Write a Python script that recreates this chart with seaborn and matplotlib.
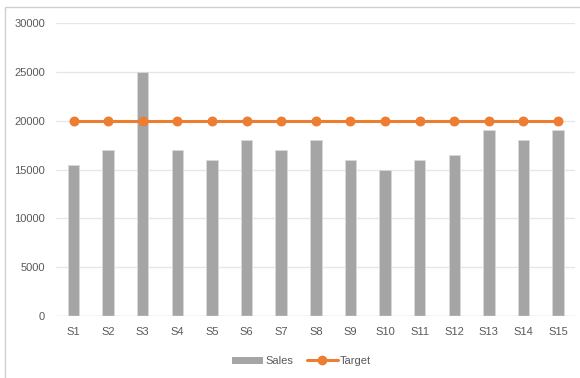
import matplotlib
matplotlib.use("Agg")
import matplotlib.pyplot as plt
import seaborn as sns
from matplotlib.patches import Rectangle, Patch
from matplotlib.lines import Line2D

stores = ["S1", "S2", "S3", "S4", "S5", "S6", "S7", "S8", "S9", "S10",
          "S11", "S12", "S13", "S14", "S15"]
sales = [15500, 17000, 25000, 17000, 16000, 18000, 17000, 18000, 16000, 15000,
         16000, 16500, 19000, 18000, 19000]
target = [20000] * 15
yticks = [0, 5000, 10000, 15000, 20000, 25000, 30000]

bar_color = "#a5a5a5"
line_color = "#ed7d31"
text_color = "#595959"

sns.set_style("white")
plt.rcParams["font.family"] = ["Liberation Sans", "DejaVu Sans"]

fig = plt.figure(figsize=(5.8, 3.78), dpi=100)
ax = fig.add_axes([0.097, 0.164, 0.895, 0.775])

sns.barplot(x=stores, y=sales, color=bar_color, width=0.33, ax=ax,
            saturation=1, edgecolor="#d9d9d9", linewidth=0.6)
sns.pointplot(x=stores, y=target, color=line_color, ax=ax,
              markersize=5.5, linewidth=2.2)

ax.set_ylim(0, 30000)
ax.set_yticks(yticks)
ax.set_yticklabels([str(v) for v in yticks])
ax.grid(axis="y", color="#e6e6e6", linewidth=0.9)
ax.set_axisbelow(True)
for s in ax.spines.values():
    s.set_visible(False)
ax.axhline(0, color="#d9d9d9", linewidth=1.0, zorder=1)
ax.tick_params(axis="both", length=0, colors=text_color, labelsize=8)
ax.tick_params(axis="x", pad=8)
ax.tick_params(axis="y", pad=8)

handles = [Patch(facecolor=bar_color, edgecolor="none"),
           Line2D([0], [0], color=line_color, lw=2.2, marker="o", markersize=6)]
fig.legend(handles, ["Sales", "Target"], loc="center", bbox_to_anchor=(0.52, 0.045),
           ncol=2, frameon=False, fontsize=8, labelcolor=text_color,
           handlelength=2.8, handleheight=0.6, columnspacing=1.2, handletextpad=0.2)

fig.patches.append(Rectangle((0.009, -0.01), 1.2, 0.991, transform=fig.transFigure,
                             fill=False, edgecolor="#d0d0d0", linewidth=1.0))

fig.savefig("out.png", dpi=100, facecolor="white")
